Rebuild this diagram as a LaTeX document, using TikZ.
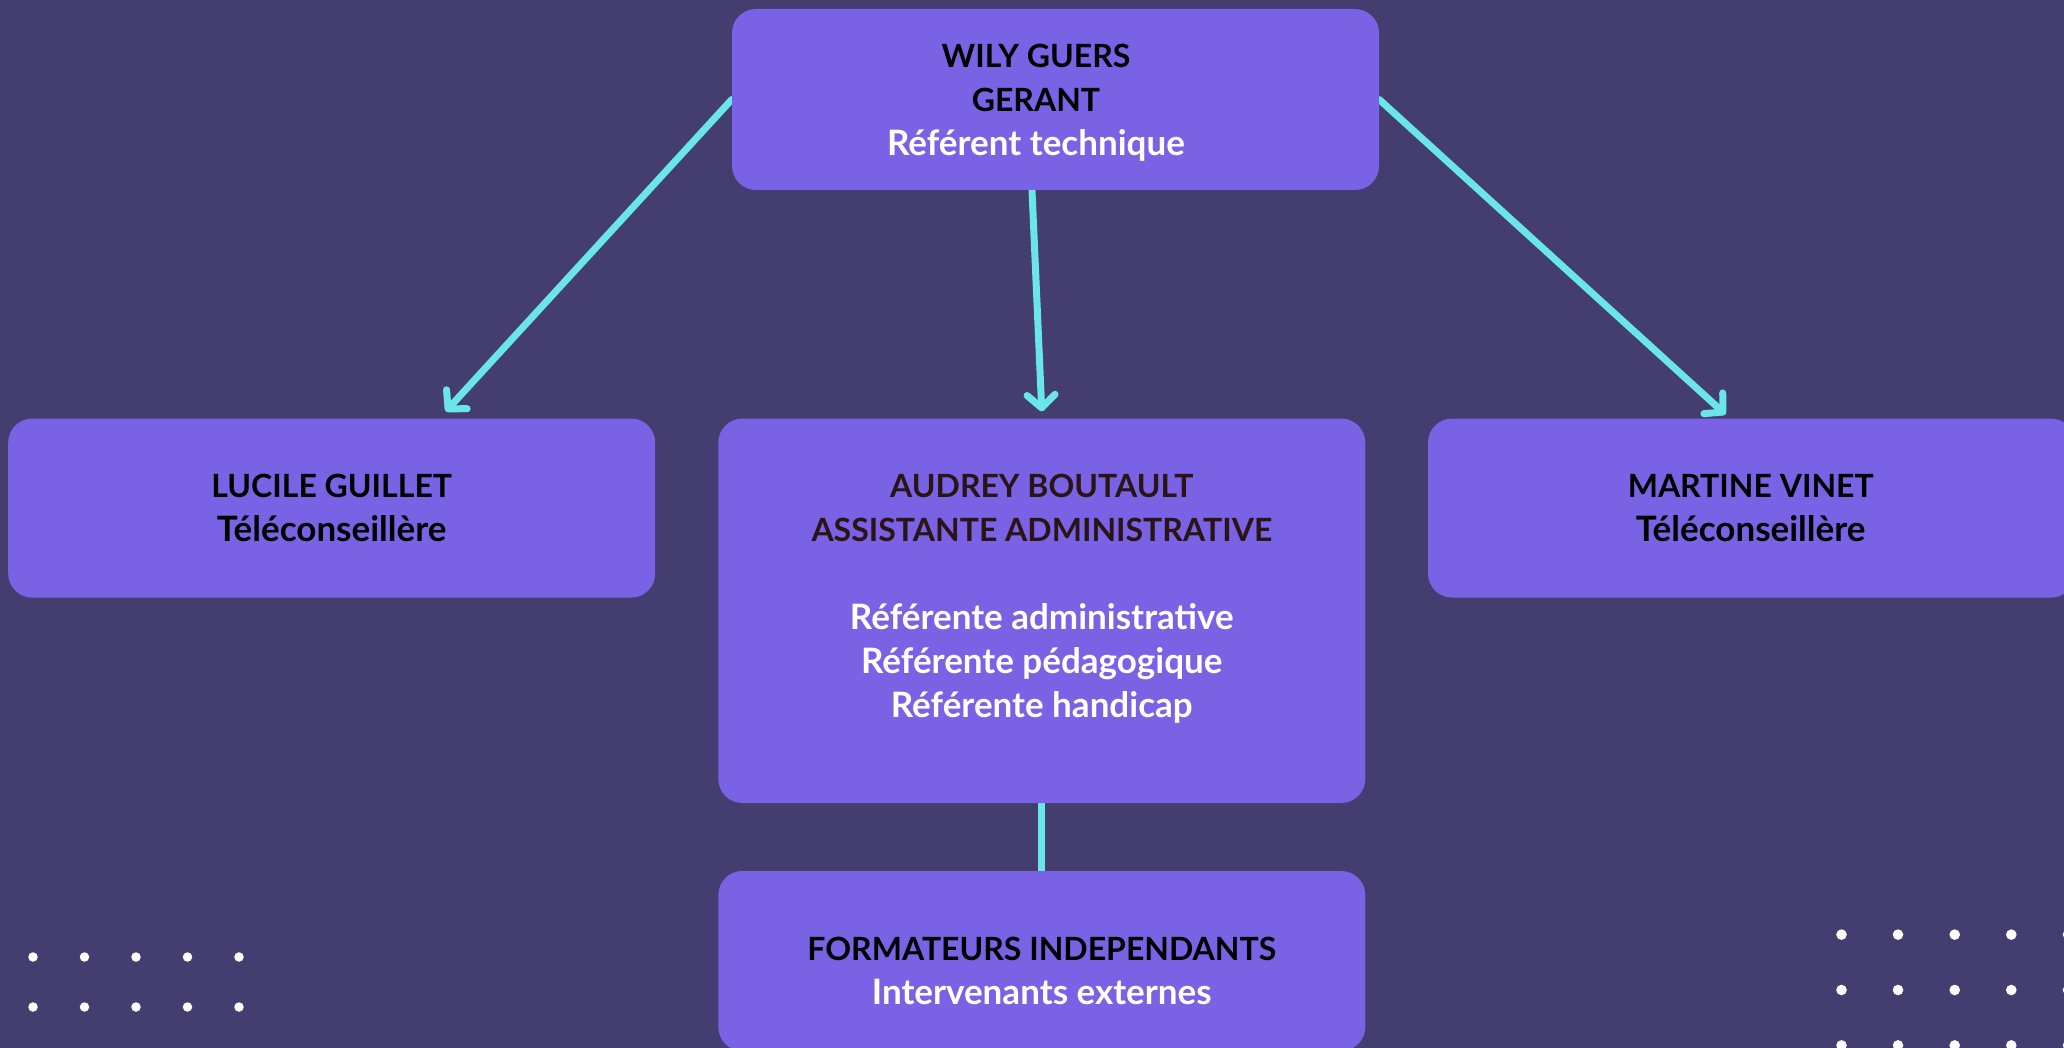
\documentclass[tikz,border=0pt]{standalone}
\usepackage{fontspec}
\setmainfont{Lato}
\usetikzlibrary{arrows.meta}
\definecolor{bgc}{HTML}{433D70}
\definecolor{boxc}{HTML}{7A62E4}
\definecolor{cyanl}{HTML}{6BE6E8}
\definecolor{hdr}{HTML}{2A1515}
\newcommand\lowline[1]{{\fontsize{35}{44}\selectfont #1}}
\newcommand\wline[1]{{\fontsize{35}{44}\selectfont\color{white}#1}}
\pgfdeclarelayer{back}
\pgfsetlayers{back,main}
\begin{document}
\begin{tikzpicture}[x=1pt,y=-1pt,
  box/.style={fill=boxc, rounded corners=24pt, minimum width=647pt, draw=none, inner sep=0pt},
  txt/.style={align=center, font=\fontsize{32}{44}\selectfont\bfseries, inner sep=0pt},
  arr/.style={draw=cyanl, line width=7pt, line cap=round, -{Straight Barb[length=13pt,width=28pt,round]}},
  conn/.style={draw=cyanl, line width=7pt},
  dot/.style={circle, fill=white, draw=none, inner sep=0pt}]
\useasboundingbox (0,0) rectangle (2064,1048);
\begin{pgfonlayer}{back}
\fill[bgc] (0,0) rectangle (2064,1048);
\end{pgfonlayer}
\clip (0,0) rectangle (2064,1048);

% boxes
\node[box, minimum height=181pt] (top) at (1055.5,99.5) {};
\node[box, minimum height=179pt] (lucile) at (331.7,508.1) {};
\node[box, minimum height=384.4pt] (audrey) at (1041.8,610.8) {};
\node[box, minimum height=179pt] (martine) at (1751.5,508.1) {};
\node[box, minimum height=180pt] (form) at (1041.8,961) {};

% texts
\node[txt] (toptxt) at (1036,103) {WILY GUERS\\GERANT\\\wline{Référent technique}};
\node[txt] (lucitxt) at (331.7,508) {LUCILE GUILLET\\\lowline{Téléconseillère}};
\node[txt] (martxt) at (1750.7,508) {MARTINE VINET\\\lowline{Téléconseillère}};
\node[txt, text=hdr] (audtxt) at (1041.8,599) {AUDREY BOUTAULT\\ASSISTANTE ADMINISTRATIVE\\[44pt]\wline{Référente administrative}\\\wline{Référente pédagogique}\\\wline{Référente handicap}};
\node[txt] (formtxt) at (1041.8,971) {FORMATEURS INDEPENDANTS\\\wline{Intervenants externes}};

% connectors
\begin{pgfonlayer}{back}
\draw[arr] (top.west) -- ([xshift=114pt,yshift=7pt]lucile.north);
\draw[arr] ([xshift=-23.5pt]top.south) -- ([yshift=7pt]audrey.north);
\draw[arr] (top.east) -- ([xshift=-26pt,yshift=4pt]martine.north);
\draw[conn] (audrey.south) -- (form.north);
\end{pgfonlayer}

% dots
\foreach \x [count=\i] in {33,84.5,136,187.5,239}
  \foreach \y [count=\j] in {957,1007}
    \node[dot, minimum size=9.5pt] (dl\i\j) at (\x,\y) {};
\foreach \x [count=\i] in {1841.5,1898,1954.7,2011.3,2068}
  \foreach \y [count=\j] in {934.6,990,1045.4}
    \node[dot, minimum size=10.6pt] (dr\i\j) at (\x,\y) {};
\end{tikzpicture}
\end{document}
